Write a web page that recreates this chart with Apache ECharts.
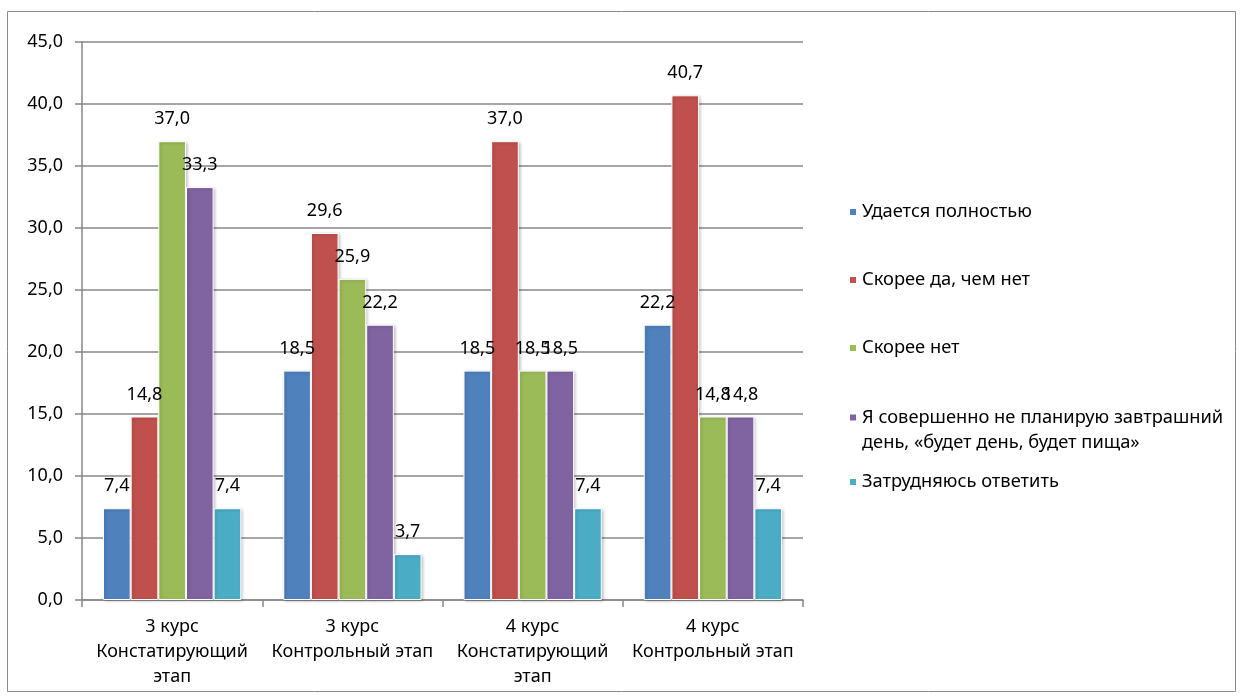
<!DOCTYPE html>
<html>
<head>
<meta charset="utf-8">
<style>
  html, body { margin: 0; padding: 0; background: #fff; }
  #chart { width: 1243px; height: 700px; }
</style>
<script src="https://cdn.jsdelivr.net/npm/echarts@6/dist/echarts.min.js"></script>
</head>
<body>
<div id="chart"></div>
<script>
// Categories (course / stage)
const categories = [
  '3 курс\nКонстатирующий\nэтап',
  '3 курс\nКонтрольный этап',
  '4 курс\nКонстатирующий\nэтап',
  '4 курс\nКонтрольный этап'
];

// Series names
const seriesNames = [
  'Удается полностью',
  'Скорее да, чем нет',
  'Скорее нет',
  'Я совершенно не планирую завтрашний день, «будет день, будет пища»',
  'Затрудняюсь ответить'
];

// Values, %
const fullySucceed   = [7.4, 18.5, 18.5, 22.2];
const ratherYes      = [14.8, 29.6, 37.0, 40.7];
const ratherNo       = [37.0, 25.9, 18.5, 14.8];
const noPlanning     = [33.3, 22.2, 18.5, 14.8];
const hardToAnswer   = [7.4, 3.7, 7.4, 7.4];

const seriesValues = [fullySucceed, ratherYes, ratherNo, noPlanning, hardToAnswer];
const colors = ['#4F81BD', '#C0504D', '#9BBB59', '#8064A2', '#4BACC6'];

// Y axis
const yMin = 0, yMax = 45, yStep = 5;

const fmt = v => v.toFixed(1).replace('.', ',');
const FONT = "'Noto Sans', 'Open Sans', sans-serif";
const GRID_COLOR = '#878787';

const chart = echarts.init(document.getElementById('chart'), null, { renderer: 'canvas' });

// one legend block per entry, stacked on the right
// (the long entry wraps; a leading empty line keeps the marker beside its first line)
const legendTops = [201, 269, 337, 380, 471];
const legends = seriesNames.map((name, i) => {
  const multi = i === 3;
  return {
    data: [name],
    orient: 'vertical',
    left: 848,
    top: legendTops[i],
    padding: 0,
    icon: 'rect',
    itemWidth: 8,
    itemHeight: 8,
    selectedMode: false,
    formatter: n => multi ? '\nЯ совершенно не планирую завтрашний\nдень, «будет день, будет пища»' : n,
    textStyle: {
      fontFamily: FONT, fontSize: 18.3, color: '#000', lineHeight: multi ? 25 : 22
    }
  };
});

const option = {
  animation: false,
  backgroundColor: '#fff',
  graphic: [{
    type: 'rect',
    shape: { x: 7.5, y: 11.5, width: 1228, height: 680 },
    style: { fill: null, stroke: '#8a8a8a', lineWidth: 1 },
    silent: true
  }],
  legend: legends,
  grid: { left: 82, right: 440, top: 42, bottom: 100, containLabel: false },
  xAxis: {
    type: 'category',
    data: categories,
    axisLine: { show: true, lineStyle: { color: GRID_COLOR, width: 1.5 } },
    axisTick: { show: true, length: 7, lineStyle: { color: GRID_COLOR, width: 1.5 } },
    axisLabel: {
      margin: 14,
      fontFamily: FONT,
      fontSize: 18,
      lineHeight: 25,
      color: '#000',
      interval: 0
    }
  },
  yAxis: {
    type: 'value',
    min: yMin,
    max: yMax,
    interval: yStep,
    axisLine: { show: true, lineStyle: { color: GRID_COLOR, width: 1.5 } },
    axisTick: { show: true, length: 7, lineStyle: { color: GRID_COLOR, width: 1.5 } },
    splitLine: { show: true, lineStyle: { color: GRID_COLOR, width: 1.5 } },
    axisLabel: {
      margin: 19,
      fontFamily: FONT,
      fontSize: 18,
      color: '#000',
      formatter: v => fmt(v)
    }
  },
  series: seriesNames.map((name, i) => ({
    name,
    type: 'bar',
    data: seriesValues[i],
    barGap: '0%',
    barCategoryGap: '23.3%',
    itemStyle: {
      color: colors[i],
      borderColor: '#fff',
      borderWidth: 1,
      shadowColor: 'rgba(0,0,0,0.22)',
      shadowBlur: 3,
      shadowOffsetX: 1.5,
      shadowOffsetY: 1
    },
    label: {
      show: true,
      position: 'top',
      distance: 13,
      fontFamily: FONT,
      fontSize: 18,
      color: '#000',
      formatter: p => fmt(p.value)
    }
  }))
};

chart.setOption(option);
</script>
</body>
</html>
